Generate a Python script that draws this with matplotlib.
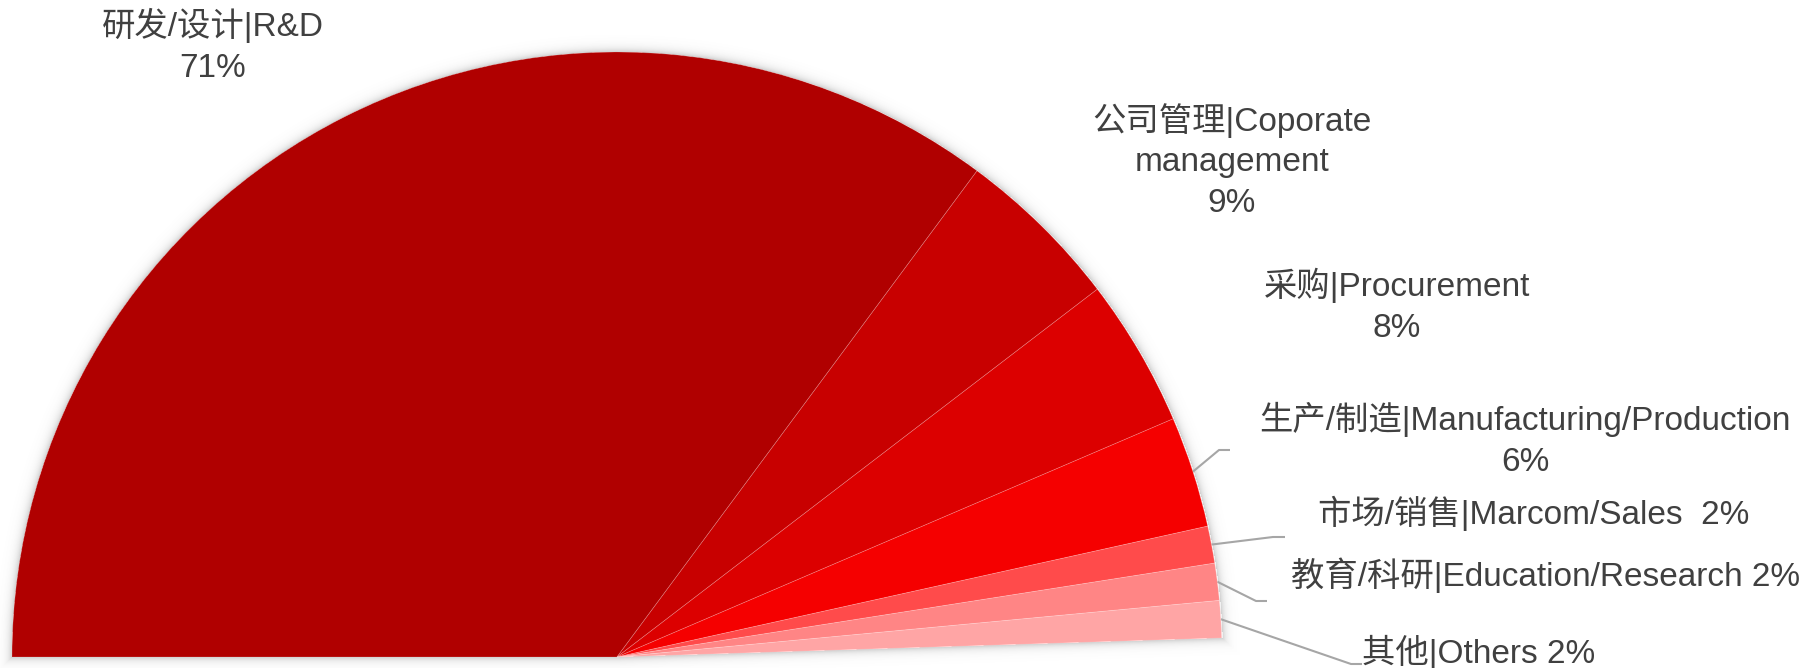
import numpy as np
import matplotlib
matplotlib.use("Agg")
import matplotlib.pyplot as plt

# data
categories = ['研发/设计|R&D', '公司管理|Coporate\nmanagement', '采购|Procurement',
              '生产/制造|Manufacturing/Production', '市场/销售|Marcom/Sales',
              '教育/科研|Education/Research', '其他|Others']
values = [71, 9, 8, 6, 2, 2, 2]
seps = ['\n', '\n', '\n', '\n', '  ', ' ', ' ']
colors = ['#b00000', '#c80000', '#dc0000', '#f50000', '#ff4b4b', '#ff8585', '#ffa5a5']

W, H = 1810, 668
cx, cy = 617, H - 657   # pie centre (pixels, y up)
R = 605
span = 178.2            # degrees the visible half covers

fig = plt.figure(figsize=(W / 100, H / 100), dpi=100)
ax = fig.add_axes([0, 0, 1, 1])

# soft shadow around the half pie
xx, yy = np.meshgrid(np.arange(W) + 0.5, np.arange(H) + 0.5)
a_end = np.deg2rad(180 - span)
d_circ = np.hypot(xx - cx, yy - cy) - R
d1 = cy - yy
d2 = (xx - cx) * np.sin(a_end) - (yy - cy) * np.cos(a_end)
d = np.maximum(d_circ, np.maximum(d1, d2))
alpha = np.where(d > 0, 0.3 * np.exp(-d / 4), 0)
img = np.zeros((H, W, 4))
img[..., :3] = 0.35
img[..., 3] = alpha
ax.imshow(img, origin='lower', extent=(0, W, 0, H), zorder=0, interpolation='bilinear')

hidden = sum(values) * (360 - span) / span
wedges, _ = ax.pie(values + [hidden], colors=colors + ['none'], startangle=180,
                   counterclock=False, center=(cx, cy), radius=R,
                   wedgeprops=dict(linewidth=0.6, edgecolor=(1, 1, 1, 0.2)))
wedges[-1].set_visible(False)
for w in wedges:
    w.set_zorder(2)

ax.set_xlim(0, W)
ax.set_ylim(0, H)
ax.set_aspect('equal')
ax.axis('off')

font = ['Liberation Sans', 'Noto Sans CJK SC']
tc = '#404040'
label_pos = [(213, 46), (1232, 161), (1397, 306), (1525, 440), (1534, 513), (1546, 575), (1479, 652)]
for cat, v, s, (lx, ly) in zip(categories, values, seps, label_pos):
    ax.text(lx, H - ly, f'{cat}{s}{v}%', ha='center', va='center', fontsize=24,
            color=tc, family=font, linespacing=1.39, zorder=3)

# leader lines for the small slices
elbows = {3: [(1219, 450), (1230, 450)],
          4: [(1273, 537), (1285, 537)],
          5: [(1256, 601), (1267, 601)],
          6: [(1351, 664), (1362, 664)]}
for i, pts in elbows.items():
    w = wedges[i]
    mid = np.deg2rad((w.theta1 + w.theta2) / 2)
    sx, sy = cx + R * np.cos(mid), cy + R * np.sin(mid)
    px = [sx] + [p[0] for p in pts]
    py = [sy] + [H - p[1] for p in pts]
    ax.plot(px, py, color='#a6a6a6', lw=1.5, zorder=1, solid_capstyle='butt')

fig.savefig('out.png', dpi=100)
